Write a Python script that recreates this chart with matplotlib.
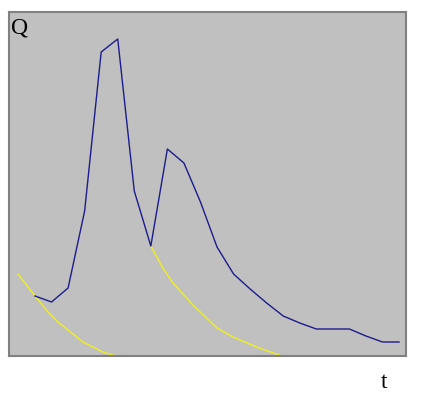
"""Hydrograph sketch: discharge Q over time t with baseflow recession curves."""

import matplotlib
matplotlib.use("Agg")
import matplotlib.pyplot as plt

# Discharge hydrograph (time step, Q)
t_flow = list(range(23))
q_flow = [6.0, 5.4, 6.8, 14.5, 30.4, 31.7, 16.5, 11.0, 20.7, 19.3, 15.4, 10.9,
          8.2, 6.7, 5.3, 4.0, 3.3, 2.7, 2.7, 2.7, 2.0, 1.4, 1.4]

# Recession curve after the first rise
t_rec1 = [-1.03, 0.0, 0.79, 1.39, 2.9, 4.1, 4.88]
q_rec1 = [8.2, 6.0, 4.4, 3.4, 1.4, 0.4, 0.0]

# Recession curve after the second rise
t_rec2 = [7.0, 7.73, 8.34, 9.55, 11.0, 11.96, 13.4, 14.9]
q_rec2 = [11.0, 8.8, 7.3, 5.1, 2.8, 1.9, 0.9, 0.0]

fig = plt.figure(figsize=(4.22, 3.99), dpi=100)
ax = fig.add_axes([9 / 422, 43 / 399, 397 / 422, 344 / 399])
ax.set_facecolor("#c0c0c0")

ax.plot(t_rec1, q_rec1, color="#f0f020", lw=1.0, clip_on=False)
ax.plot(t_rec2, q_rec2, color="#f0f020", lw=1.0, clip_on=False)
ax.plot(t_flow, q_flow, color="#1c1c8c", lw=1.0)

ax.set_xlim(-1.571, 22.42)
ax.set_ylim(0, 34.4)
ax.set_xticks([])
ax.set_yticks([])
for side in ax.spines.values():
    side.set_color("#808080")
    side.set_linewidth(1.5)

ax.text(0.006, 0.985, "Q", transform=ax.transAxes, ha="left", va="top",
        family="Liberation Serif", fontsize=17)
fig.text(384 / 422, 1 - 383 / 399, "t", ha="center", va="center",
         family="Liberation Serif", fontsize=17)

fig.savefig("out.png", dpi=100)
